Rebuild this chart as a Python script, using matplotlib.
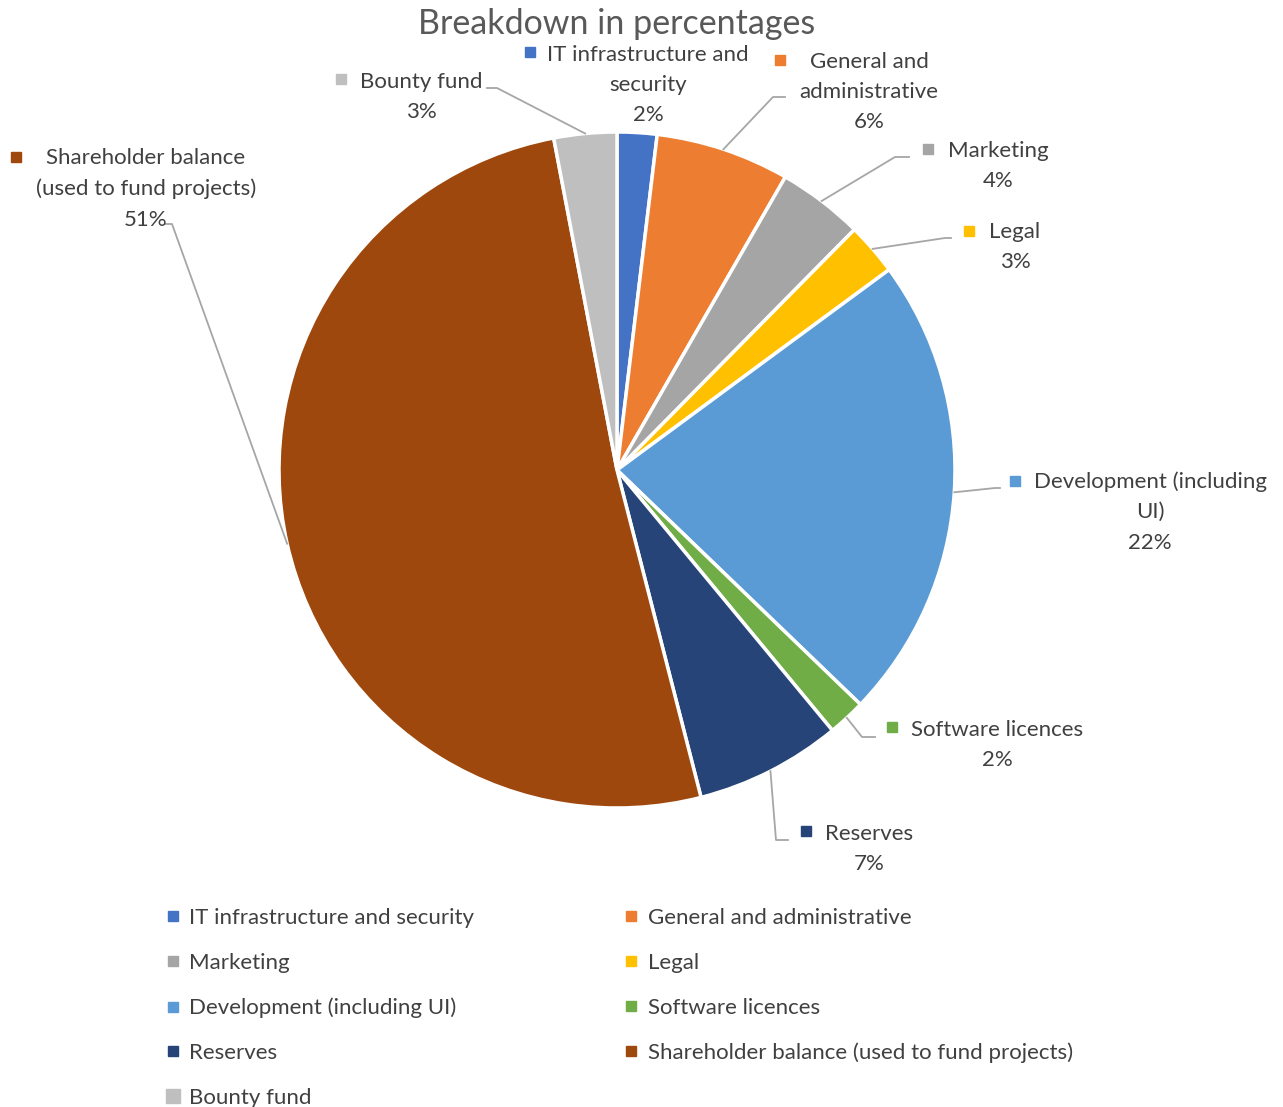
import numpy as np
import matplotlib
matplotlib.use("Agg")
import matplotlib.pyplot as plt
from matplotlib.lines import Line2D

plt.rcParams['font.family'] = ['Lato', 'DejaVu Sans']

# data
categories = ['IT infrastructure and security', 'General and administrative', 'Marketing',
              'Legal', 'Development (including UI)', 'Software licences', 'Reserves',
              'Shareholder balance (used to fund projects)', 'Bounty fund']
shares = [1.9, 6.4, 4.1, 2.5, 22.3, 1.8, 7.0, 51.0, 3.0]
pct_labels = ['2%', '6%', '4%', '3%', '22%', '2%', '7%', '51%', '3%']
wrapped = ['IT infrastructure and\nsecurity', 'General and\nadministrative', 'Marketing',
           'Legal', 'Development (including\nUI)', 'Software licences', 'Reserves',
           'Shareholder balance\n(used to fund projects)', 'Bounty fund']
colors = ['#4472C4', '#ED7D31', '#A5A5A5', '#FFC000', '#5B9BD5', '#70AD47',
          '#264478', '#9E480E', '#BFBFBF']

# layout (pixels, from top-left)
W, H = 1283, 1107
cx, cy, R = 617, 470, 338
label_center = [(648, 85), (869, 92), (998, 166), (1015, 247), (1150, 512),
                (997, 745), (869, 849), (146, 189), (421, 97)]
label_square = [(530, 52), (780, 60), (928, 149), (969, 231), (1015, 481),
                (892, 727), (806, 831), (16, 157), (341, 79)]
elbows = [None, [(773, 97), (785, 97)], [(895, 157), (909, 157)], [(945, 238), (951, 238)],
          [(995, 488), (1000, 488)], [(862, 737), (875, 737)], [(776, 840), (788, 840)],
          [(172, 224), (165, 224)], [(497, 88), (487, 88)]]

txt = '#404040'
line_c = '#A6A6A6'

fig = plt.figure(figsize=(W / 100, H / 100), dpi=100)
ax = fig.add_axes([(cx - R) / W, 1 - (cy + R) / H, 2 * R / W, 2 * R / H])
wedges, _ = ax.pie(shares, colors=colors, startangle=90, counterclock=False, radius=1,
                   wedgeprops=dict(edgecolor='white', linewidth=2.5))
ax.set_xlim(-1, 1)
ax.set_ylim(-1, 1)
ax.set_aspect('equal')
ax.axis('off')


def fx(p):
    return p[0] / W, 1 - p[1] / H


fig.text(0.5 * (418 + 816) / W, 1 - 24 / H, 'Breakdown in percentages', ha='center',
         va='center', fontsize=24.5, color='#595959')

for i, w in enumerate(wedges):
    x, y = fx(label_center[i])
    fig.text(x, y, wrapped[i] + '\n' + pct_labels[i], ha='center', va='center',
             fontsize=16, color=txt, linespacing=1.65, multialignment='center')
    sx, sy = fx(label_square[i])
    fig.add_artist(Line2D([sx], [sy], marker='s', markersize=7, color=colors[i],
                          linestyle='none', transform=fig.transFigure))
    if elbows[i] is None:
        continue
    mid = np.deg2rad((w.theta1 + w.theta2) / 2)
    start = (cx + R * np.cos(mid), cy - R * np.sin(mid))
    pts = [start] + elbows[i]
    xs = [fx(p)[0] for p in pts]
    ys = [fx(p)[1] for p in pts]
    fig.add_artist(Line2D(xs, ys, color=line_c, linewidth=1.3, transform=fig.transFigure))

# legend filled row by row
order = [0, 2, 4, 6, 8, 1, 3, 5, 7]
handles = []
for i in order:
    ms = 10 if i == 8 else 7
    handles.append(Line2D([], [], marker='s', markersize=ms, color=colors[i], linestyle='none'))
fig.legend(handles, [categories[i] for i in order], ncol=2, loc='upper left',
           bbox_to_anchor=(167 / W, 1 - 908 / H), frameon=False, fontsize=16,
           labelcolor=txt, handlelength=0.55, handletextpad=0.45, labelspacing=1.12,
           columnspacing=6.8, borderaxespad=0, borderpad=0)

fig.savefig('out.png', dpi=100)
